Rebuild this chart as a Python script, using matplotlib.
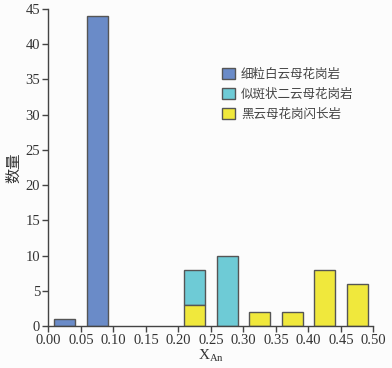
import matplotlib.pyplot as plt
import numpy as np

# bin centres and counts per rock type
bins = [0.025, 0.075, 0.125, 0.175, 0.225, 0.275, 0.325, 0.375, 0.425, 0.475]
fine_granite = [1, 44, 0, 0, 0, 0, 0, 0, 0, 0]       # 细粒白云母花岗岩
porphyritic = [0, 0, 0, 0, 5, 10, 0, 0, 0, 0]        # 似斑状二云母花岗岩
biotite = [0, 0, 0, 0, 3, 0, 2, 2, 8, 6]             # 黑云母花岗闪长岩
labels = ['细粒白云母花岗岩', '似斑状二云母花岗岩', '黑云母花岗闪长岩']
colors = ['#6a8bc8', '#6ecbd6', '#f0e83c']

plt.rcParams['font.family'] = ['Liberation Serif', 'Noto Sans CJK SC']

fig = plt.figure(figsize=(3.92, 3.68), dpi=100, facecolor='#fcfcfc')
ax = fig.add_axes([0.1235, 0.114, 0.829, 0.8615], facecolor='#fcfcfc')

x = np.array(bins)
w = 0.032
fg = np.array(fine_granite)
pg = np.array(porphyritic)
bt = np.array(biotite)

ax.bar(x[fg > 0], fg[fg > 0], width=w, color=colors[0], edgecolor='#555555', lw=1, label=labels[0])
ax.bar(x[pg > 0], pg[pg > 0], width=w, bottom=bt[pg > 0], color=colors[1], edgecolor='#555555', lw=1, label=labels[1])
ax.bar(x[bt > 0], bt[bt > 0], width=w, color=colors[2], edgecolor='#555555', lw=1, label=labels[2])

ax.set_xlim(0, 0.5)
ax.set_ylim(0, 45)
ax.set_xticks(np.arange(0, 0.501, 0.05))
ax.set_xticklabels(['%.2f' % t for t in np.arange(0, 0.501, 0.05)])
ax.set_yticks(range(0, 46, 5))
for s in ['top', 'right']:
    ax.spines[s].set_visible(False)
for s in ['left', 'bottom']:
    ax.spines[s].set_color('#444444')
    ax.spines[s].set_linewidth(1)
ax.tick_params(direction='out', length=4, width=1, color='#444444',
               labelsize=10.5, labelcolor='#333333', pad=2)

ax.set_xlabel(r'X$_{\mathregular{An}}$', fontsize=11, color='#333333', labelpad=0)
ax.set_ylabel('数量', family=['Noto Sans CJK SC'], fontsize=11, color='#333333', labelpad=2)

leg = ax.legend(loc='upper left', bbox_to_anchor=(0.5, 0.85), frameon=False,
                prop={'family': 'Noto Sans CJK SC', 'size': 9}, handlelength=1.0,
                handleheight=1.0, handletextpad=0.5, labelspacing=0.55)
for t in leg.get_texts():
    t.set_color('#444444')

plt.savefig('out.png', dpi=100, facecolor=fig.get_facecolor())
